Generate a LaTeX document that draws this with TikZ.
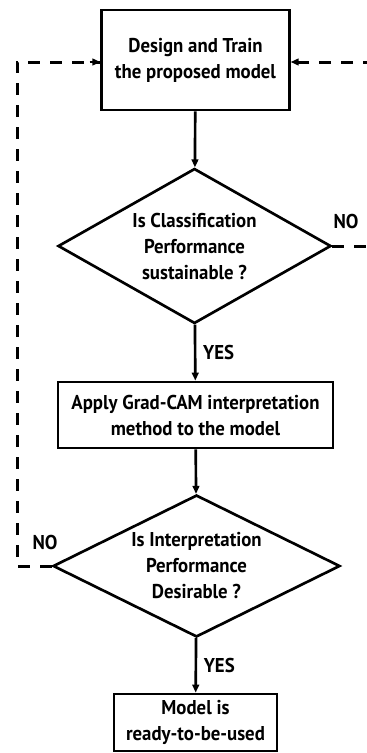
\documentclass[tikz,border=0pt]{standalone}
\usepackage{fontspec}
\setmainfont[FakeStretch=0.94]{PT Sans}
\usetikzlibrary{shapes.geometric,arrows.meta}
\begin{document}
\begin{tikzpicture}[x=0.75pt,y=-0.75pt,
  txt/.style={font=\bfseries\fontsize{15}{19.5}\selectfont,align=center},
  procbox/.style={draw,line width=2pt,txt,inner sep=0pt},
  decision/.style={draw,diamond,line width=2pt,txt,inner sep=0pt},
  flow/.style={line width=2pt,-{Triangle[length=6pt,width=5pt]}},
  back/.style={line width=2.25pt,dash pattern=on 9pt off 7.5pt},
  lbl/.style={txt,inner sep=0pt}]
\useasboundingbox (0,0) rectangle (367,753);
\clip (0,0) rectangle (367,753);
\node[procbox,minimum width=140.7pt,minimum height=75pt] (b1) at (195.5,60) {Design and Train\\the proposed model};
\node[decision,minimum width=204.75pt,minimum height=116.25pt,aspect=1.76] (d1) at (194.5,246) {Is Classification\\Performance\\sustainable ?};
\node[procbox,minimum width=206.25pt,minimum height=49.5pt] (b2) at (195.5,415) {Apply Grad-CAM interpretation\\method to the model};
\node[decision,minimum width=215.25pt,minimum height=106.5pt,aspect=2.02] (d2) at (196.5,566) {Is Interpretation\\Performance\\Desirable ?};
\node[procbox,minimum width=122.25pt,minimum height=42.75pt] (b3) at (195.5,722.5) {Model is\\ready-to-be-used};
\draw[flow] (b1) -- (d1);
\draw[flow] (d1) -- node[lbl,right=5pt] (y1) {YES} (b2);
\draw[flow] (b2) -- (d2);
\draw[flow] (d2) -- node[lbl,right=5pt] (y2) {YES} (b3);
\coordinate (l1) at (17,566);
\coordinate (l2) at (17,62);
\coordinate (r1) at (375,246);
\coordinate (r2) at (375,62);
\draw[back] (d2.west) -- (l1) -- (l2) -- (l2 -| b1.west);
\draw[line width=2pt,-{Triangle[length=6pt,width=5pt]}] ([xshift=-8pt]l2 -| b1.west) -- (l2 -| b1.west);
\draw[back] (d1.east) -- (r1);
\draw[back] (r2) -- (r2 -| b1.east);
\draw[line width=2pt,-{Triangle[length=6pt,width=5pt]}] ([xshift=8pt]r2 -| b1.east) -- (r2 -| b1.east);
\node[lbl] (n1) at (346,221) {NO};
\node[lbl] (n2) at (45,542) {NO};
\end{tikzpicture}
\end{document}
